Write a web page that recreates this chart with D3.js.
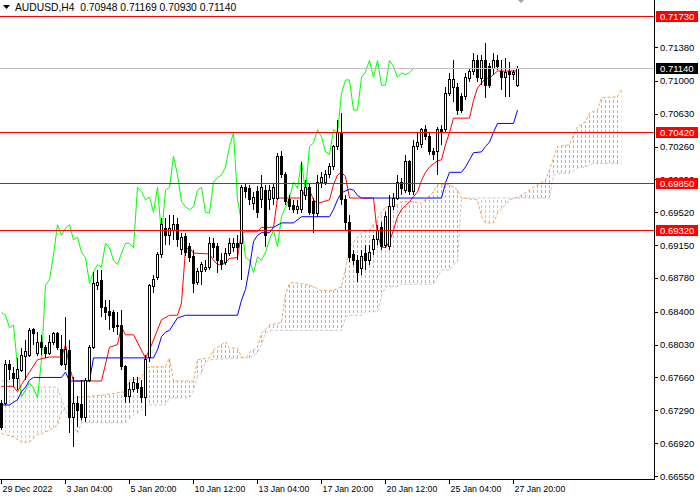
<!DOCTYPE html>
<meta charset="utf-8">
<style>
  body { margin: 0; background: #fff; }
  svg text { font-family: "Liberation Sans", Arial, sans-serif; font-size: 9.5px; }
</style>
<body>
<script src="https://d3js.org/d3.v7.min.js"></script>
<script>

// AUDUSD H4 bars
var titleText = "AUDUSD,H4  0.70948 0.71169 0.70930 0.71140";

var openP = [0.6737,0.6737,0.6781,0.6771,0.6765,0.6774,0.6790,0.6791,0.6820,0.6793,
  0.6805,0.6800,0.6793,0.6805,0.6815,0.6797,0.6781,0.6796,0.6721,0.6737,
  0.6735,0.6721,0.6763,0.6800,0.6870,0.6875,0.6845,0.6840,0.6839,0.6823,
  0.6825,0.6778,0.6744,0.6752,0.6759,0.6755,0.6743,0.6788,0.6868,0.6878,
  0.6904,0.6934,0.6926,0.6932,0.6938,0.6910,0.6925,0.6913,0.6902,0.6873,
  0.6885,0.6887,0.6890,0.6917,0.6913,0.6898,0.6895,0.6906,0.6912,0.6917,
  0.6917,0.6980,0.6979,0.6962,0.6975,0.6966,0.6977,0.6966,0.6968,0.6968,
  0.7015,0.6994,0.6966,0.6960,0.6955,0.6955,0.6971,0.6980,0.6964,0.6951,
  0.6985,0.6986,0.6994,0.7003,0.7026,0.7042,0.6966,0.6941,0.6904,0.6898,
  0.6889,0.6906,0.6898,0.6910,0.6921,0.6935,0.6915,0.6913,0.6958,0.6968,
  0.6986,0.6977,0.7009,0.6975,0.7026,0.7028,0.7045,0.7037,0.7020,0.7020,
  0.7045,0.7045,0.7086,0.7092,0.7093,0.7082,0.7082,0.7103,0.7110,0.7123,
  0.7103,0.7123,0.7116,0.7114,0.7123,0.7110,0.7104,0.7110,0.7107,0.70948];

var highP = [0.6741,0.6786,0.6786,0.6778,0.6788,0.6799,0.6808,0.6822,0.6822,0.6817,
  0.6814,0.6802,0.6814,0.6817,0.6817,0.6814,0.6834,0.6808,0.6766,0.6745,
  0.6763,0.6765,0.6802,0.6885,0.6887,0.6887,0.6853,0.6853,0.6842,0.6840,
  0.6842,0.6780,0.6761,0.6766,0.6766,0.6763,0.6791,0.6871,0.6881,0.6907,
  0.6946,0.6946,0.6949,0.6949,0.6946,0.6929,0.6929,0.6917,0.6910,0.6889,
  0.6896,0.6898,0.6924,0.6923,0.6917,0.6906,0.6912,0.6923,0.6923,0.6926,
  0.6983,0.6985,0.6983,0.6975,0.6982,0.6994,0.6983,0.6983,0.6985,0.7019,
  0.7021,0.6997,0.6971,0.6966,0.6966,0.7009,0.6988,0.6985,0.6968,0.6994,
  0.6997,0.7000,0.7008,0.7028,0.7056,0.7064,0.6971,0.6949,0.6910,0.6904,
  0.6910,0.6915,0.6915,0.6926,0.6938,0.6941,0.6952,0.6971,0.6974,0.6994,
  0.6991,0.7017,0.7011,0.7033,0.7041,0.7047,0.7050,0.7041,0.7024,0.7048,
  0.7050,0.7093,0.7109,0.7123,0.7098,0.7086,0.7109,0.7114,0.7131,0.7129,
  0.7129,0.7143,0.7120,0.7131,0.7129,0.7123,0.7126,0.7121,0.7112,0.71169];

var lowP = [0.6707,0.6735,0.6763,0.6755,0.6752,0.6772,0.6763,0.6789,0.6802,0.6790,
  0.6791,0.6788,0.6791,0.6802,0.6797,0.6779,0.6774,0.6703,0.6688,0.6710,
  0.6718,0.6716,0.6761,0.6798,0.6864,0.6834,0.6831,0.6819,0.6817,0.6814,
  0.6774,0.6737,0.6737,0.6750,0.6749,0.6737,0.6723,0.6783,0.6861,0.6876,
  0.6901,0.6915,0.6915,0.6921,0.6913,0.6904,0.6903,0.6896,0.6861,0.6870,
  0.6870,0.6885,0.6887,0.6901,0.6884,0.6887,0.6893,0.6903,0.6907,0.6898,
  0.6876,0.6968,0.6960,0.6955,0.6946,0.6957,0.6913,0.6955,0.6960,0.6966,
  0.6991,0.6960,0.6955,0.6951,0.6950,0.6951,0.6966,0.6949,0.6929,0.6947,
  0.6979,0.6983,0.6991,0.7000,0.7022,0.6960,0.6932,0.6896,0.6893,0.6873,
  0.6881,0.6887,0.6893,0.6904,0.6915,0.6910,0.6912,0.6910,0.6955,0.6966,
  0.6971,0.6974,0.6971,0.6971,0.7022,0.7024,0.7033,0.7017,0.7011,0.6994,
  0.7028,0.7041,0.7083,0.7076,0.7062,0.7064,0.7078,0.7099,0.7107,0.7099,
  0.7095,0.7081,0.7092,0.7107,0.7112,0.7090,0.7082,0.7082,0.7101,0.70930];

var closeP = [0.6710,0.6781,0.6775,0.6765,0.6775,0.6791,0.6795,0.6819,0.6816,0.6805,
  0.6800,0.6793,0.6805,0.6815,0.6800,0.6781,0.6797,0.6721,0.6737,0.6729,
  0.6721,0.6763,0.6800,0.6872,0.6873,0.6845,0.6839,0.6836,0.6822,0.6825,
  0.6778,0.6744,0.6752,0.6760,0.6754,0.6743,0.6786,0.6870,0.6876,0.6904,
  0.6938,0.6926,0.6934,0.6938,0.6921,0.6924,0.6907,0.6901,0.6872,0.6885,
  0.6893,0.6890,0.6917,0.6912,0.6898,0.6893,0.6906,0.6917,0.6917,0.6912,
  0.6980,0.6975,0.6966,0.6969,0.6952,0.6980,0.6926,0.6977,0.6980,0.7015,
  0.6994,0.6964,0.6958,0.6955,0.6958,0.6977,0.6980,0.6952,0.6951,0.6986,
  0.6991,0.6994,0.7003,0.7026,0.7042,0.6966,0.6941,0.6901,0.6898,0.6884,
  0.6902,0.6898,0.6907,0.6921,0.6932,0.6913,0.6947,0.6958,0.6968,0.6986,
  0.6979,0.7009,0.6975,0.7026,0.7030,0.7045,0.7037,0.7020,0.7017,0.7045,
  0.7042,0.7086,0.7101,0.7101,0.7067,0.7067,0.7104,0.7110,0.7123,0.7104,
  0.7123,0.7095,0.7095,0.7123,0.7116,0.7104,0.7109,0.7107,0.7109,0.71140];

// ichimoku lines as [bar, price] break points
var tenkan = [[0,0.6756],[3,0.6756],[4,0.6750],[5,0.6758],[9,0.6786],[12,0.6789],[15,0.6789],[16,0.6803],
  [17,0.6778],[18,0.6762],[25,0.6762],[27,0.6800],[29,0.6803],[30,0.6823],[31,0.6814],[33,0.6814],
  [36,0.6788],[37,0.6797],[40,0.6831],[42,0.6836],[44,0.6836],[45,0.6850],[46,0.6910],[47,0.6912],
  [48,0.6906],[52,0.6905],[53,0.6898],[54,0.6893],[55,0.6893],[56,0.6895],[57,0.6900],[59,0.6901],
  [60,0.6929],[61,0.6930],[64,0.6930],[65,0.6935],[68,0.6935],[69,0.6968],[75,0.6968],[76,0.6979],
  [77,0.6977],[78,0.6966],[79,0.6962],[82,0.6966],[83,0.6983],[84,0.6994],[85,0.6997],[86,0.6992],
  [87,0.6968],[93,0.6968],[94,0.6926],[95,0.6913],[96,0.6912],[97,0.6919],[98,0.6932],[99,0.6947],
  [100,0.6955],[102,0.6964],[104,0.6975],[105,0.6988],[106,0.6997],[107,0.7003],[109,0.7010],
  [110,0.7011],[111,0.7028],[112,0.7042],[113,0.7058],[117,0.7058],[118,0.7078],[119,0.7092],
  [121,0.7103],[122,0.7103],[123,0.7107],[124,0.7111],[129,0.7111]];

var kijun = [[0,0.6735],[2,0.6735],[4,0.6741],[5,0.6750],[6,0.6755],[7,0.6763],[8,0.6766],[15,0.6766],
  [16,0.6772],[17,0.6762],[22,0.6762],[23,0.6788],[38,0.6788],[39,0.6797],[40,0.6812],[41,0.6817],
  [42,0.6819],[44,0.6833],[46,0.6836],[59,0.6836],[60,0.6853],[61,0.6865],[62,0.6890],[63,0.6919],
  [64,0.6926],[65,0.6929],[67,0.6929],[68,0.6935],[70,0.6940],[73,0.6940],[75,0.6947],[82,0.6947],
  [83,0.6955],[84,0.6966],[85,0.6974],[86,0.6976],[87,0.6978],[88,0.6977],[89,0.6971],[90,0.6968],
  [110,0.6968],[111,0.6985],[112,0.6997],[115,0.6997],[116,0.7003],[117,0.7011],[118,0.7019],
  [120,0.7020],[121,0.7026],[122,0.7031],[123,0.7042],[124,0.7052],[128,0.7052],[129,0.7067]];

var spanA = [[0,0.6703],[3,0.6699],[5,0.6693],[7,0.6693],[9,0.6702],[10,0.6702],[14,0.6712],[15,0.6727],
  [17,0.6735],[18,0.6743],[25,0.6746],[31,0.6750],[32,0.6763],[35,0.6765],[36,0.6777],[37,0.6778],
  [41,0.6778],[42,0.6788],[43,0.6762],[48,0.6762],[49,0.6786],[52,0.6788],[53,0.6797],[56,0.6806],
  [57,0.6799],[59,0.6799],[60,0.6789],[61,0.6788],[62,0.6794],[64,0.6800],[65,0.6816],[67,0.6825],
  [70,0.6828],[71,0.6859],[72,0.6872],[73,0.6873],[77,0.6870],[80,0.6864],[83,0.6864],[85,0.6868],
  [86,0.6889],[87,0.6913],[89,0.6924],[90,0.6929],[92,0.6932],[95,0.6952],[96,0.6958],[98,0.6958],
  [100,0.6964],[103,0.6964],[105,0.6962],[108,0.6975],[109,0.6983],[112,0.6983],[114,0.6977],
  [115,0.6968],[119,0.6966],[120,0.6947],[121,0.6940],[123,0.6940],[124,0.6951],[127,0.6966],
  [129,0.6969],[131,0.6974],[133,0.6980],[136,0.6988],[137,0.7000],[139,0.7026],[142,0.7028],
  [143,0.7039],[144,0.7048],[146,0.7054],[147,0.7064],[149,0.7067],[150,0.7081],[154,0.7082],[155,0.7090]];

var spanB = [[0,0.6762],[4,0.6762],[5,0.6755],[14,0.6755],[15,0.6741],[16,0.6729],[17,0.6720],[18,0.6712],
  [19,0.6703],[20,0.6715],[31,0.6715],[32,0.6720],[33,0.6724],[34,0.6726],[36,0.6733],[37,0.6735],
  [41,0.6735],[42,0.6743],[47,0.6743],[48,0.6752],[49,0.6767],[50,0.6771],[51,0.6783],[52,0.6786],
  [60,0.6788],[62,0.6788],[64,0.6794],[65,0.6803],[66,0.6816],[67,0.6819],[85,0.6819],[86,0.6834],
  [87,0.6836],[90,0.6836],[91,0.6840],[94,0.6840],[95,0.6857],[96,0.6868],[99,0.6868],[100,0.6871],
  [108,0.6871],[109,0.6879],[110,0.6887],[112,0.6887],[113,0.6893],[114,0.6896],[115,0.6968],
  [137,0.6968],[138,0.6994],[140,0.6996],[142,0.6996],[144,0.7002],[146,0.7003],[148,0.7007],[155,0.7007]];

var chikouShift = 26;
var levels = [0.71730, 0.70420, 0.69850, 0.69320];
var bidPrice = 0.71140;
var priceTicks = [0.71380, 0.71000, 0.70630, 0.70260, 0.69890, 0.69520, 0.69150,
  0.68780, 0.68400, 0.68030, 0.67660, 0.67290, 0.66920, 0.66550];
var timeLabels = ["29 Dec 2022", "3 Jan 04:00", "5 Jan 20:00", "10 Jan 12:00", "13 Jan 04:00",
  "17 Jan 20:00", "20 Jan 12:00", "25 Jan 04:00", "27 Jan 20:00"];
var timeBars = [0, 16, 32, 48, 64, 80, 96, 112, 128];

var W = 700, H = 500, plotW = 654, plotH = 479;

var x = d3.scaleLinear().domain([0, 1]).range([1.5, 5.5]);
var y = d3.scaleLinear().domain([0.7191 - plotH * 0.0001126, 0.7191]).range([plotH, 0]);

var svg = d3.select("body").append("svg")
    .attr("width", W).attr("height", H)
    .style("display", "block").style("background", "#fff");

var defs = svg.append("defs");
var ptLine = d3.line().x(function(d) { return x(d[0]); }).y(function(d) { return y(d[1]); });

// cloud outline, and masks for the side of span B (picks the colour)
var bPath = ptLine(spanB);
var lastB = spanB[spanB.length - 1][0];
var cloudD = ptLine(spanA) + "L" + ptLine(spanB.slice().reverse()).slice(1) + "Z";
defs.append("clipPath").attr("id", "cloudClip").append("path").attr("d", cloudD);

function sideMask(id, edgeY) {
  var m = defs.append("mask").attr("id", id)
      .attr("maskUnits", "userSpaceOnUse")
      .attr("x", 0).attr("y", 0).attr("width", W).attr("height", H);
  m.append("rect").attr("width", W).attr("height", H).attr("fill", "#000");
  m.append("path").attr("fill", "#fff")
      .attr("d", bPath + "L" + x(lastB) + "," + edgeY + "L" + x(0) + "," + edgeY + "Z");
}
sideMask("maskAbove", 0);
sideMask("maskBelow", plotH);

var chart = svg.append("g");

var cloudBars = d3.range(lastB + 1);
function hatch(maskId, color) {
  chart.append("g").attr("mask", "url(#" + maskId + ")")
    .append("g").attr("clip-path", "url(#cloudClip)")
    .selectAll("line").data(cloudBars).enter().append("line")
      .attr("x1", function(i) { return x(i); }).attr("x2", function(i) { return x(i); })
      .attr("y1", 0).attr("y2", plotH)
      .attr("stroke", color).attr("stroke-dasharray", "3,2");
}
hatch("maskBelow", "#d8bfd8");
hatch("maskAbove", "#f4a460");

chart.append("path").attr("d", ptLine(spanA)).attr("fill", "none")
    .attr("stroke", "#f4a460").attr("stroke-dasharray", "3,2");
chart.append("path").attr("d", bPath).attr("fill", "none")
    .attr("stroke", "#d8bfd8").attr("stroke-dasharray", "3,2");

// lagging span: the close line drawn 26 bars back
var chikou = closeP.slice(chikouShift).map(function(c, i) { return [i, c]; });
chart.append("path").attr("d", ptLine(chikou)).attr("fill", "none").attr("stroke", "#00ff00");
chart.append("path").attr("d", ptLine(tenkan)).attr("fill", "none").attr("stroke", "#ff0000");
chart.append("path").attr("d", ptLine(kijun)).attr("fill", "none").attr("stroke", "#0000ff");

// candles
var bars = d3.range(openP.length);
var cg = chart.append("g").attr("shape-rendering", "crispEdges");
cg.selectAll("line").data(bars).enter().append("line")
    .attr("x1", function(i) { return x(i); }).attr("x2", function(i) { return x(i); })
    .attr("y1", function(i) { return y(highP[i]); }).attr("y2", function(i) { return y(lowP[i]); })
    .attr("stroke", "#000");
cg.selectAll("rect").data(bars).enter().append("rect")
    .attr("x", function(i) { return x(i) - 1; })
    .attr("width", 2)
    .attr("y", function(i) { return y(Math.max(openP[i], closeP[i])); })
    .attr("height", function(i) { return Math.max(0.5, Math.abs(y(openP[i]) - y(closeP[i]))); })
    .attr("fill", function(i) { return closeP[i] >= openP[i] ? "#fff" : "#000"; })
    .attr("stroke", "#000");

// horizontal levels and bid
var lg = svg.append("g").attr("shape-rendering", "crispEdges");
lg.selectAll("line.lvl").data(levels).enter().append("line").attr("class", "lvl")
    .attr("x1", 0).attr("x2", plotW)
    .attr("y1", function(d) { return Math.round(y(d)) + 0.5; })
    .attr("y2", function(d) { return Math.round(y(d)) + 0.5; })
    .attr("stroke", "#ff0000");
lg.append("line").attr("x1", 0).attr("x2", plotW)
    .attr("y1", Math.round(y(bidPrice)) + 0.5).attr("y2", Math.round(y(bidPrice)) + 0.5)
    .attr("stroke", "#c0c0c0");

// frame
var ax = svg.append("g").attr("shape-rendering", "crispEdges");
ax.append("line").attr("x1", plotW + 0.5).attr("x2", plotW + 0.5)
    .attr("y1", 0).attr("y2", plotH + 1).attr("stroke", "#000");
ax.append("line").attr("x1", 0).attr("x2", plotW + 1)
    .attr("y1", plotH + 0.5).attr("y2", plotH + 0.5).attr("stroke", "#000");

// right price scale
var yt = svg.append("g");
yt.selectAll("line").data(priceTicks).enter().append("line")
    .attr("x1", plotW).attr("x2", plotW + 4)
    .attr("y1", function(d) { return Math.round(y(d)) + 0.5; })
    .attr("y2", function(d) { return Math.round(y(d)) + 0.5; })
    .attr("stroke", "#000").attr("shape-rendering", "crispEdges");
yt.selectAll("text").data(priceTicks).enter().append("text")
    .attr("x", 660).attr("y", function(d) { return y(d) + 3.5; })
    .attr("fill", "#000").text(function(d) { return d.toFixed(5); });

function tag(v, bg) {
  var yy = Math.round(y(v));
  svg.append("rect").attr("x", 656).attr("y", yy - 5).attr("width", 42).attr("height", 11)
      .attr("fill", bg);
  svg.append("text").attr("x", 660).attr("y", yy + 3.5).attr("fill", "#fff").text(v.toFixed(5));
}
levels.forEach(function(v) { tag(v, "#ff0000"); });
tag(bidPrice, "#000");

// time scale
var xt = svg.append("g");
xt.selectAll("line").data(timeBars).enter().append("line")
    .attr("x1", function(b) { return Math.floor(x(b)) + 0.5; })
    .attr("x2", function(b) { return Math.floor(x(b)) + 0.5; })
    .attr("y1", plotH).attr("y2", plotH + 5)
    .attr("stroke", "#000").attr("shape-rendering", "crispEdges");
xt.selectAll("text").data(timeBars).enter().append("text")
    .attr("x", function(b) { return x(b) + 1; }).attr("y", 492)
    .style("font-size", "8.8px")
    .attr("fill", "#000").text(function(b, i) { return timeLabels[i]; });

// title and chart shift marker
svg.append("path").attr("d", "M3,5L10,5L6.5,9Z").attr("fill", "#000");
svg.append("text").attr("x", 15).attr("y", 11).attr("fill", "#000")
    .style("font-size", "10.3px").attr("xml:space", "preserve").text(titleText);
svg.append("path").attr("d", "M518,0L524,0L521,3Z").attr("fill", "#a0a0a0");

</script>
</body>
